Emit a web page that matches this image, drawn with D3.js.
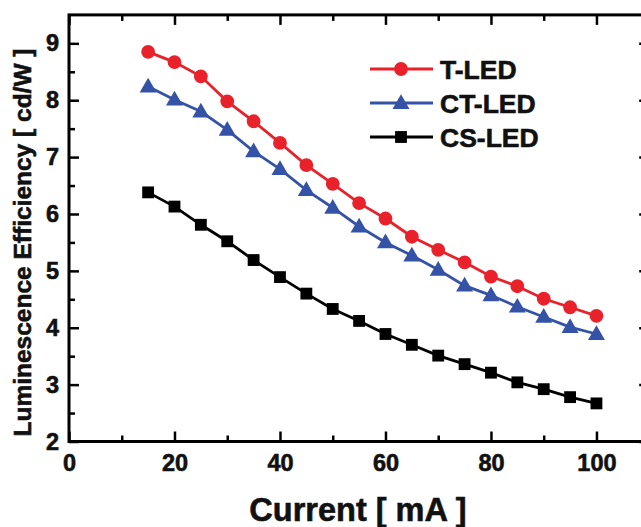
<!DOCTYPE html>
<html>
<head>
<meta charset="utf-8">
<script src="https://cdn.jsdelivr.net/npm/d3@7"></script>
<style>
  body { margin: 0; background: #fff; }
  svg text { font-family: "Liberation Sans", Arial, sans-serif; font-weight: bold; fill: #111; stroke: #111; stroke-width: 0.6px; }
</style>
</head>
<body>
<div id="chart"></div>
<script>
const W = 641, H = 527;

const current = [15, 20, 25, 30, 35, 40, 45, 50, 55, 60, 65, 70, 75, 80, 85, 90, 95, 100];
const tLed  = [8.85, 8.67, 8.42, 7.98, 7.63, 7.25, 6.86, 6.53, 6.19, 5.92, 5.60, 5.37, 5.15, 4.90, 4.73, 4.51, 4.36, 4.21];
const ctLed = [8.24, 8.01, 7.80, 7.48, 7.10, 6.79, 6.42, 6.11, 5.78, 5.50, 5.27, 5.02, 4.74, 4.57, 4.37, 4.19, 4.01, 3.89];
const csLed = [6.38, 6.13, 5.81, 5.52, 5.19, 4.89, 4.60, 4.33, 4.12, 3.89, 3.70, 3.51, 3.36, 3.21, 3.04, 2.92, 2.78, 2.67];

const xTicks = [0, 20, 40, 60, 80, 100];
const xMinor = [10, 30, 50, 70, 90];
const yTicks = [2, 3, 4, 5, 6, 7, 8, 9];
const yMinor = [2.5, 3.5, 4.5, 5.5, 6.5, 7.5, 8.5];

const series = [
  { name: "T-LED",  values: tLed,  color: "#e8212b", shape: d3.symbolCircle,   size: 150 },
  { name: "CT-LED", values: ctLed, color: "#3553a6", shape: d3.symbolTriangle, size: 125 },
  { name: "CS-LED", values: csLed, color: "#000000", shape: d3.symbolSquare,   size: 140 }
];

const plotL = 69, plotR = 649.2, plotT = 14.9, plotB = 441.5;

const x = d3.scaleLinear().domain([0, 110]).range([plotL, plotR]);
const y = d3.scaleLinear().domain([2, 9.5]).range([plotB, plotT]);

const svg = d3.select("#chart").append("svg")
  .attr("width", W).attr("height", H);

function styleAxis(g) {
  g.select(".domain").remove();
  g.selectAll("line").attr("stroke", "#000").attr("stroke-width", 2.5);
  g.selectAll("text").style("font-size", "23.5px");
}

// bottom
svg.append("g").attr("transform", `translate(0,${plotB})`)
  .call(d3.axisBottom(x).tickValues(xTicks).tickSizeInner(-10).tickSizeOuter(0).tickPadding(13))
  .call(styleAxis);
svg.append("g").attr("transform", `translate(0,${plotB})`)
  .call(d3.axisBottom(x).tickValues(xMinor).tickSize(-6).tickFormat(""))
  .call(styleAxis);
// top
svg.append("g").attr("transform", `translate(0,${plotT})`)
  .call(d3.axisTop(x).tickValues(xTicks).tickSize(-10).tickFormat(""))
  .call(styleAxis);
svg.append("g").attr("transform", `translate(0,${plotT})`)
  .call(d3.axisTop(x).tickValues(xMinor).tickSize(-6).tickFormat(""))
  .call(styleAxis);
// left
svg.append("g").attr("transform", `translate(${plotL},0)`)
  .call(d3.axisLeft(y).tickValues(yTicks).tickSizeInner(-10).tickSizeOuter(0).tickPadding(10))
  .call(styleAxis);
svg.append("g").attr("transform", `translate(${plotL},0)`)
  .call(d3.axisLeft(y).tickValues(yMinor).tickSize(-6).tickFormat(""))
  .call(styleAxis);
// right
svg.append("g").attr("transform", `translate(${plotR},0)`)
  .call(d3.axisRight(y).tickValues(yTicks).tickSize(-10).tickFormat(""))
  .call(styleAxis);
svg.append("g").attr("transform", `translate(${plotR},0)`)
  .call(d3.axisRight(y).tickValues(yMinor).tickSize(-6).tickFormat(""))
  .call(styleAxis);

// frame
svg.append("rect")
  .attr("x", plotL).attr("y", plotT)
  .attr("width", plotR - plotL).attr("height", plotB - plotT)
  .attr("fill", "none").attr("stroke", "#000").attr("stroke-width", 3);

// series
const line = d3.line().x((d, i) => x(current[i])).y(d => y(d));

series.forEach(s => {
  svg.append("path")
    .datum(s.values)
    .attr("d", line)
    .attr("fill", "none")
    .attr("stroke", s.color)
    .attr("stroke-width", 2.8);

  svg.selectAll(null)
    .data(s.values)
    .enter()
    .append("path")
    .attr("transform", (d, i) => `translate(${x(current[i])},${y(d) + (s.shape === d3.symbolTriangle ? 1 : 0)})`)
    .attr("d", d3.symbol().type(s.shape).size(s.size))
    .attr("fill", s.color);
});

// legend
const legend = svg.append("g");
series.forEach((s, i) => {
  const ly = 69 + i * 34;
  legend.append("line")
    .attr("x1", 370).attr("x2", 433)
    .attr("y1", ly).attr("y2", ly)
    .attr("stroke", s.color).attr("stroke-width", 2.8);
  legend.append("path")
    .attr("transform", `translate(401,${ly + (s.shape === d3.symbolTriangle ? 1 : 0)})`)
    .attr("d", d3.symbol().type(s.shape).size(s.size))
    .attr("fill", s.color);
  legend.append("text")
    .attr("x", 440).attr("y", ly + 9.5)
    .style("font-size", "26.5px")
    .text(s.name);
});

// axis titles
svg.append("text")
  .attr("x", 358).attr("y", 521)
  .attr("text-anchor", "middle")
  .style("font-size", "32.5px")
  .text("Current [ mA ]");

svg.append("text")
  .attr("transform", "translate(31,242.5) rotate(-90)")
  .attr("text-anchor", "middle")
  .style("font-size", "24.5px")
  .text("Luminescence Efficiency [ cd/W ]");
</script>
</body>
</html>
